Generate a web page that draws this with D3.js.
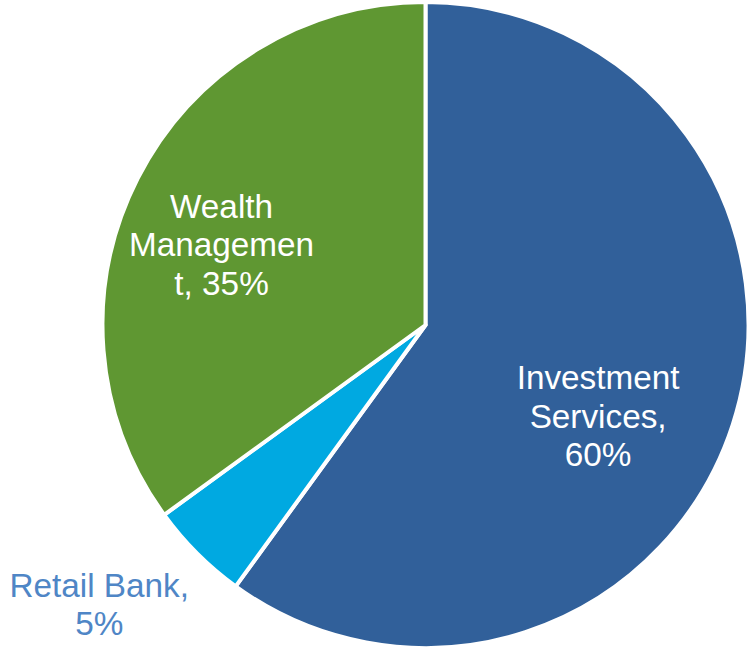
<!DOCTYPE html>
<html>
<head>
<meta charset="utf-8">
<script src="https://cdn.jsdelivr.net/npm/d3@7"></script>
<style>
  html, body { margin: 0; padding: 0; background: #ffffff; }
  svg { display: block; }
</style>
</head>
<body>
<svg id="chart" width="753" height="653"></svg>
<script>
// Revenue mix by business segment
const segments = ["Investment Services", "Retail Bank", "Wealth Management"];
const shares = [60, 5, 35];
const segmentColors = ["#31609a", "#00a9e1", "#5f9732"];
// Label text lines for each segment (wrapped as drawn)
const labelLines = [
  ["Investment", "Services,", "60%"],
  ["Retail Bank,", "5%"],
  ["Wealth", "Managemen", "t, 35%"]
];

const width = 753, height = 653;
const cx = 425.5, cy = 325, radius = 323;

const svg = d3.select("#chart");
const g = svg.append("g").attr("transform", `translate(${cx},${cy})`);

const data = segments.map((name, i) => ({ name, value: shares[i], color: segmentColors[i], lines: labelLines[i] }));

const pie = d3.pie().value(d => d.value).sort(null);
const arc = d3.arc().innerRadius(0).outerRadius(radius);
const arcs = pie(data);

g.selectAll("path.slice")
  .data(arcs)
  .enter().append("path")
  .attr("class", "slice")
  .attr("d", arc)
  .attr("fill", d => d.data.color)
  .attr("stroke", "#ffffff")
  .attr("stroke-width", 4)
  .attr("stroke-linejoin", "round");

// Label placement: radius along the slice's mid-angle, plus a shift for the text block
const labelStyle = [
  { r: 0.57, dx: -2.5, dy: 34, inside: true },   // Investment Services
  { r: 1.42, dx: -2, dy: -45, inside: false },   // Retail Bank (outside)
  { r: 0.70, dx: -2.5, dy: 22, inside: true }    // Wealth Management
];

const fontSize = 33.3, lineH = 38.5;

arcs.forEach((a, i) => {
  const mid = (a.startAngle + a.endAngle) / 2;
  const st = labelStyle[i];
  const x = Math.sin(mid) * radius * st.r + st.dx;
  const y = -Math.cos(mid) * radius * st.r + st.dy;
  const lines = a.data.lines;
  const text = g.append("text")
    .attr("text-anchor", "middle")
    .attr("font-family", "'Liberation Sans', Arial, sans-serif")
    .attr("font-size", fontSize)
    .attr("fill", st.inside ? "#ffffff" : "#4f86c6");
  lines.forEach((ln, k) => {
    text.append("tspan")
      .attr("x", x)
      .attr("y", y + (k - (lines.length - 1) / 2) * lineH)
      .attr("dy", "0.35em")
      .text(ln);
  });
});
</script>
</body>
</html>
